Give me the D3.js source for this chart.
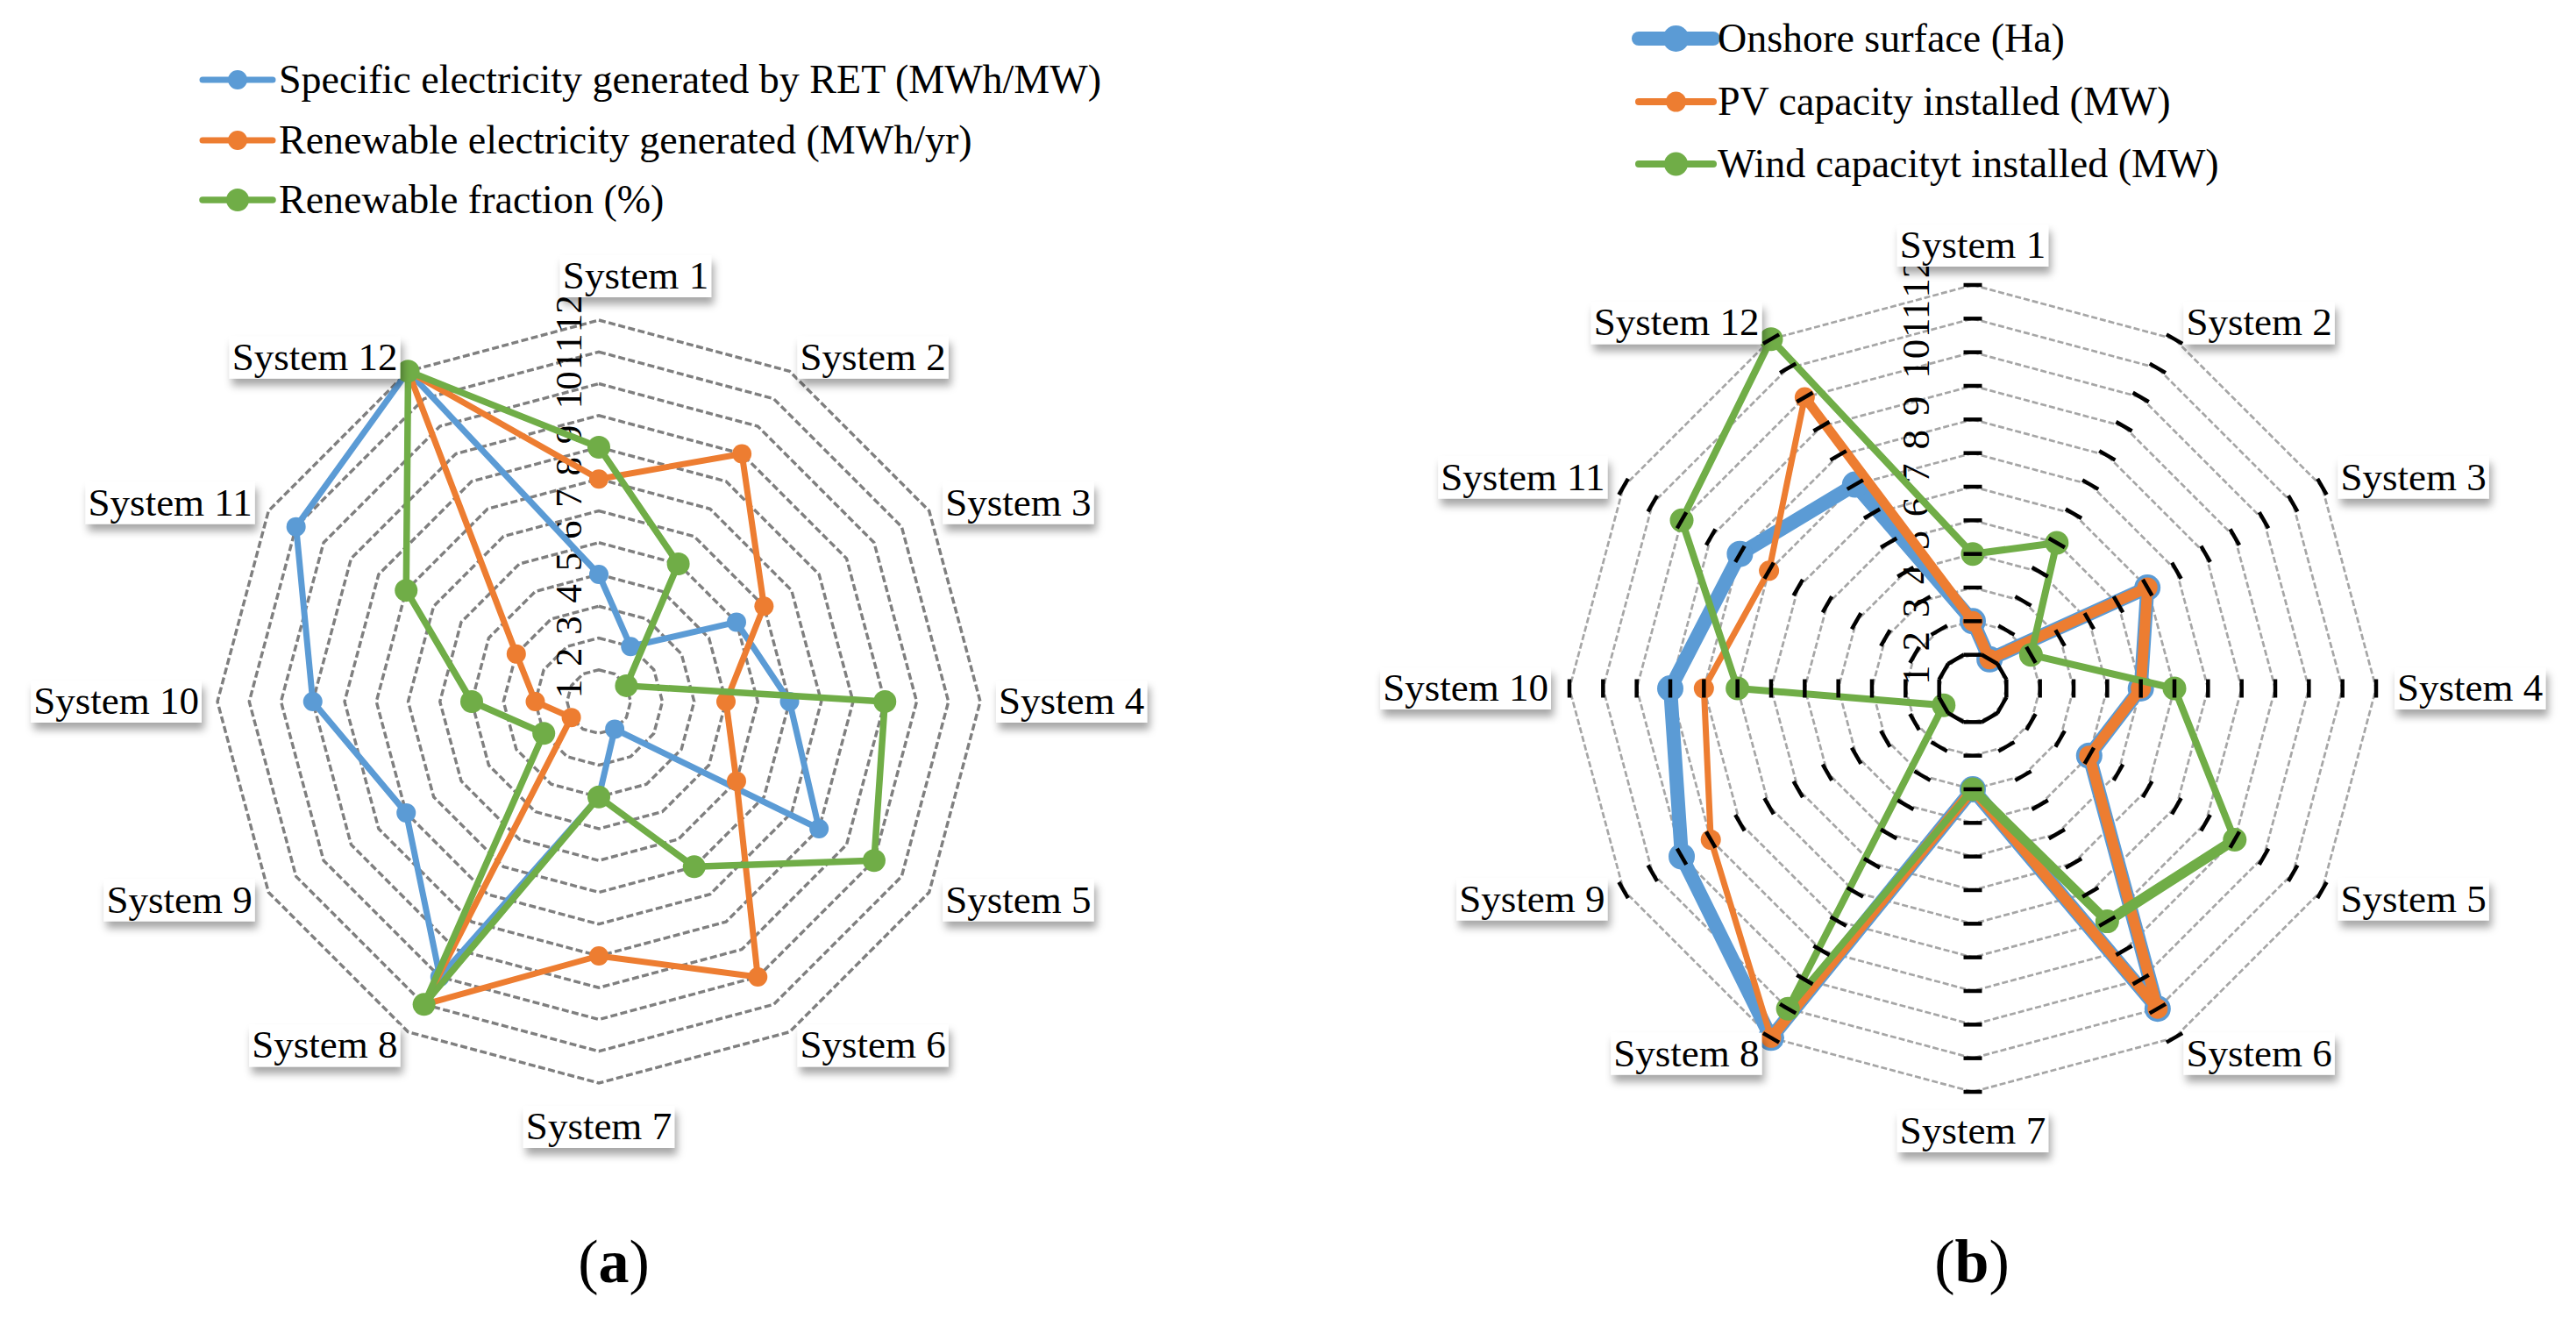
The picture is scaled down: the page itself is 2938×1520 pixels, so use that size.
<!DOCTYPE html>
<html>
<head>
<meta charset="utf-8">
<script src="https://cdn.jsdelivr.net/npm/d3@7"></script>
<style>
  body { margin: 0; background: #fff; }
  text { font-family: "Liberation Serif", "Times New Roman", serif; }
</style>
</head>
<body>
<div id="chart"></div>
<script>
const W = 2938, H = 1520;

// categories and ring ticks
const categories = ["System 1", "System 2", "System 3", "System 4", "System 5", "System 6",
  "System 7", "System 8", "System 9", "System 10", "System 11", "System 12"];
const tickValues = [1, 2, 3, 4, 5, 6, 7, 8, 9, 10, 11, 12];

// (a) ranking values
const specificElectricity = [4, 2, 5, 6, 8, 1, 3, 10, 7, 9, 11, 12];
const renewableElectricity = [7, 9, 6, 4, 5, 10, 8, 11, 1, 2, 3, 12];
const renewableFraction = [8, 5, 1, 9, 10, 6, 3, 11, 2, 4, 7, 12];

// (b) ranking values
const onshoreSurface = [2, 1, 6, 5, 4, 11, 3, 12, 10, 9, 8, 7];
const pvCapacity = [2, 1, 6, 5, 4, 11, 3, 12, 9, 8, 7, 10];
const windCapacity = [4, 5, 2, 6, 9, 8, 3, 11, 1, 7, 10, 12];

const BLUE = "#5b9bd5", ORANGE = "#ed7d31", GREEN = "#70ad47";

const charts = [
  {
    cx: 683, cy: 800, R: 435,
    grid: { color: "#7f7f7f", width: 3.4, dash: "8,3.5" },
    axisTicks: false, tickLabelX: -20, tickFont: 43,
    labelGap: 18, labelExtra: 8, labelShift: { 0: 42 },
    legend: { x0: 231, x1: 311, textX: 318, rows: [91, 160, 228] },
    caption: { x: 700, y: 1462, letter: "a" },
    series: [
      { name: "Specific electricity generated by RET (MWh/MW)", values: specificElectricity, color: BLUE, width: 7, r: 11 },
      { name: "Renewable electricity generated (MWh/yr)", values: renewableElectricity, color: ORANGE, width: 7, r: 11 },
      { name: "Renewable fraction (%)", values: renewableFraction, color: GREEN, width: 7.5, r: 13 }
    ]
  },
  {
    cx: 2250, cy: 785, R: 460,
    grid: { color: "#a6a6a6", width: 2.7, dash: "7,3" },
    axisTicks: true, tickLabelX: -50, tickFont: 45,
    labelGap: 21, labelExtra: 0, labelShift: {},
    legend: { x0: 1869, x1: 1954, textX: 1959, rows: [44, 116, 187] },
    caption: { x: 2249, y: 1462, letter: "b" },
    series: [
      { name: "Onshore surface (Ha)", values: onshoreSurface, color: BLUE, width: 16, r: 15 },
      { name: "PV capacity installed (MW)", values: pvCapacity, color: ORANGE,
        width: [12, 12, 12, 12, 12, 12, 12, 7, 7, 7, 7, 11], legendWidth: 8, r: 11.5 },
      { name: "Wind capacityt installed (MW)", values: windCapacity, color: GREEN,
        width: [8, 8, 8, 8, 12, 11, 8, 8, 8, 8, 8, 8], legendWidth: 8, r: 13.5 }
    ]
  }
];

const svg = d3.select("#chart").append("svg")
  .attr("width", W)
  .attr("height", H)
  .attr("viewBox", `0 0 ${W} ${H}`);

svg.append("rect").attr("width", W).attr("height", H).attr("fill", "#fff");

const defs = svg.append("defs");
defs.append("filter")
  .attr("id", "shadow")
  .attr("x", "-20%").attr("y", "-40%")
  .attr("width", "140%").attr("height", "200%")
  .append("feDropShadow")
  .attr("dx", 3).attr("dy", 8)
  .attr("stdDeviation", 5)
  .attr("flood-color", "#000")
  .attr("flood-opacity", 0.35);

const n = categories.length;
const angle = d3.scaleLinear().domain([0, n]).range([0, 2 * Math.PI]);

// tick labels along System 1 axis (Excel packs the two-digit ones end to end)
function tickPos(k) {
  return k <= 9 ? k - 0.6 : 9.8 + (k - 10) * 1.2;
}

charts.forEach(c => {
  const r = d3.scaleLinear().domain([0, 12]).range([0, c.R]);
  const g = svg.append("g").attr("transform", `translate(${c.cx},${c.cy})`);
  const pt = (v, i) => [r(v) * Math.sin(angle(i)), -r(v) * Math.cos(angle(i))];

  // gridlines
  g.append("g").selectAll("path")
    .data(tickValues)
    .enter().append("path")
    .attr("d", k => d3.line()(d3.range(n).map(i => pt(k, i))) + "Z")
    .attr("fill", "none")
    .attr("stroke", c.grid.color)
    .attr("stroke-width", c.grid.width)
    .attr("stroke-dasharray", c.grid.dash);

  // tick labels
  g.append("g").selectAll("text")
    .data(tickValues)
    .enter().append("text")
    .attr("transform", k => `translate(${c.tickLabelX},${-r(tickPos(k))}) rotate(-90)`)
    .attr("text-anchor", "middle")
    .style("font-size", c.tickFont + "px")
    .attr("fill", "#000")
    .text(k => k);

  // series
  c.series.forEach(s => {
    const sg = g.append("g");
    const widths = Array.isArray(s.width) ? s.width : s.values.map(() => s.width);
    sg.selectAll("line")
      .data(s.values)
      .enter().append("line")
      .attr("x1", (v, i) => pt(v, i)[0])
      .attr("y1", (v, i) => pt(v, i)[1])
      .attr("x2", (v, i) => pt(s.values[(i + 1) % n], (i + 1) % n)[0])
      .attr("y2", (v, i) => pt(s.values[(i + 1) % n], (i + 1) % n)[1])
      .attr("stroke", s.color)
      .attr("stroke-width", (v, i) => widths[i])
      .attr("stroke-linecap", "round");
    sg.selectAll("circle")
      .data(s.values)
      .enter().append("circle")
      .attr("cx", (v, i) => pt(v, i)[0])
      .attr("cy", (v, i) => pt(v, i)[1])
      .attr("r", s.r)
      .attr("fill", s.color);
  });

  // black tick marks across every spoke (drawn above the series)
  if (c.axisTicks) {
    const tickData = [];
    d3.range(n).forEach(i => tickValues.forEach(k => tickData.push({ i, k })));
    g.append("g").selectAll("line")
      .data(tickData)
      .enter().append("line")
      .attr("transform", d => `rotate(${angle(d.i) * 180 / Math.PI})`)
      .attr("x1", -10.5).attr("x2", 10.5)
      .attr("y1", d => -r(d.k)).attr("y2", d => -r(d.k))
      .attr("stroke", "#000")
      .attr("stroke-width", 4.5);
  }

  // category labels: white boxes with a soft shadow
  categories.forEach((name, i) => {
    const a = angle(i);
    const dx = Math.sin(a), dy = -Math.cos(a);
    const px = (c.R + c.labelGap) * dx, py = (c.R + c.labelGap) * dy;
    const lg = g.append("g");
    const rect = lg.append("rect").attr("fill", "#fff").attr("filter", "url(#shadow)");
    const t = lg.append("text").style("font-size", "45px").attr("fill", "#000").text(name);
    const tw = t.node().getComputedTextLength();
    const bw = tw + 6, bh = 48;
    let left;
    if (Math.abs(dx) < 0.01) left = px - bw / 2;
    else if (dx > 0) left = px;
    else left = px - bw;
    let top;
    if (dy < -0.99) top = py - c.labelExtra - bh;
    else if (dy > 0.99) top = py + c.labelExtra;
    else top = py - bh / 2;
    left += c.labelShift[i] || 0;
    rect.attr("x", left).attr("y", top).attr("width", bw).attr("height", bh);
    t.attr("x", left + 3).attr("y", top + 38);
  });

  // legend
  const L = c.legend;
  c.series.forEach((s, j) => {
    const y = L.rows[j];
    svg.append("line")
      .attr("x1", L.x0).attr("x2", L.x1)
      .attr("y1", y).attr("y2", y)
      .attr("stroke", s.color)
      .attr("stroke-width", s.legendWidth || (Array.isArray(s.width) ? 8 : s.width))
      .attr("stroke-linecap", "round");
    svg.append("circle")
      .attr("cx", (L.x0 + L.x1) / 2).attr("cy", y)
      .attr("r", s.r)
      .attr("fill", s.color);
    svg.append("text")
      .attr("x", L.textX).attr("y", y + 15)
      .style("font-size", "46px")
      .attr("fill", "#000")
      .text(s.name);
  });

  // panel caption
  const cap = svg.append("text")
    .attr("x", c.caption.x).attr("y", c.caption.y)
    .attr("text-anchor", "middle")
    .style("font-size", "70px")
    .attr("fill", "#000");
  cap.append("tspan").text("(");
  cap.append("tspan").style("font-weight", "bold").text(c.caption.letter);
  cap.append("tspan").text(")");
});
</script>
</body>
</html>
